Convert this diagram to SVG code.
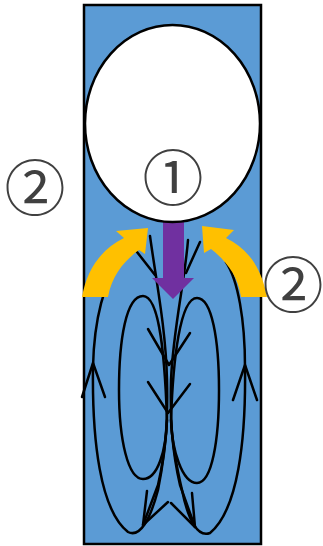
<svg xmlns="http://www.w3.org/2000/svg" width="323" height="546" viewBox="0 0 323 546">
  <style>
    .field { fill: none; stroke: #000; stroke-width: 2.5; stroke-linecap: round; stroke-linejoin: round; }
    .flow { fill: #FFC000; }
    .label { font-family: "Noto Sans CJK JP", "DejaVu Sans", sans-serif; font-size: 61px; fill: #404040; text-anchor: middle; }
  </style>
  <rect width="323" height="546" fill="#fff"/>

  <!-- column -->
  <g id="column">
    <rect x="84" y="5" width="177" height="539" fill="#5B9BD5" stroke="#000" stroke-width="2.5"/>
  </g>

  <!-- circulation lines -->
  <g id="connectors" class="field">
    <!-- central lines from the top -->
    <path d="M150,236 C156,280 166,330 167,380 C168,420 166,450 158,485 L143,525"/>
    <path d="M188,240 C185,280 173,330 171,380 C170,420 172,450 180,485 L195,527"/>
    <!-- outer loops -->
    <path d="M122,258 C104,280 94,320 93,367 C92,440 100,510 128,532 C140,538 150,520 158,490 C164,460 166,440 167,420"/>
    <path d="M226,262 C238,280 245,320 245,367 C246,440 238,510 210,533 C198,538 188,520 182,490 C175,460 172,440 171,420"/>
    <!-- inner loops -->
    <path d="M167,420 C165,360 160,296 143,296 C126,296 119,340 119,390 C119,440 128,479 143,479 C158,479 166,450 167,420"/>
    <path d="M171,420 C173,360 180,298 197,298 C212,298 219,340 219,390 C219,440 212,483 197,483 C182,483 172,450 171,420"/>
    <!-- arrowheads -->
    <path d="M137,252 L155,275"/>
    <path d="M200,242 L186,273"/>
    <path d="M148,329 L169,365 L190,333"/>
    <path d="M148,382 L168,413 L190,384"/>
    <path d="M82,397 L93,363 L105,397"/>
    <path d="M233,400 L245,365 L257,400"/>
    <path d="M147,491 L143,525 L168,502"/>
    <path d="M192,493 L195,527 L171,503"/>
  </g>

  <!-- rising side flows -->
  <g id="flow-left">
    <path class="flow" d="M82,297 C87,270 100,250 124,238 L116,231 L148,228 L145,254 L139,250 C125,260 112,275 108,297 Z"/>
  </g>
  <g id="flow-right">
    <path class="flow" d="M267,297 C262,270 250,250 226,238 L234,230 L202,226 L204,253 L211,249 C225,260 238,275 241,297 Z"/>
  </g>

  <!-- downward flow -->
  <g id="down-arrow">
    <path d="M163,220 L184,220 L184,278 L194,278 L173,299 L152,278 L163,278 Z" fill="#7030A0"/>
  </g>

  <!-- bubble -->
  <g id="bubble">
    <ellipse cx="172.5" cy="123.5" rx="87.5" ry="98.5" fill="#fff" stroke="#000" stroke-width="2.5"/>
    <text class="label" x="173" y="201">①</text>
  </g>

  <g id="label-left">
    <text class="label" x="35" y="211">②</text>
  </g>
  <g id="label-right">
    <text class="label" x="293" y="308">②</text>
  </g>
</svg>
